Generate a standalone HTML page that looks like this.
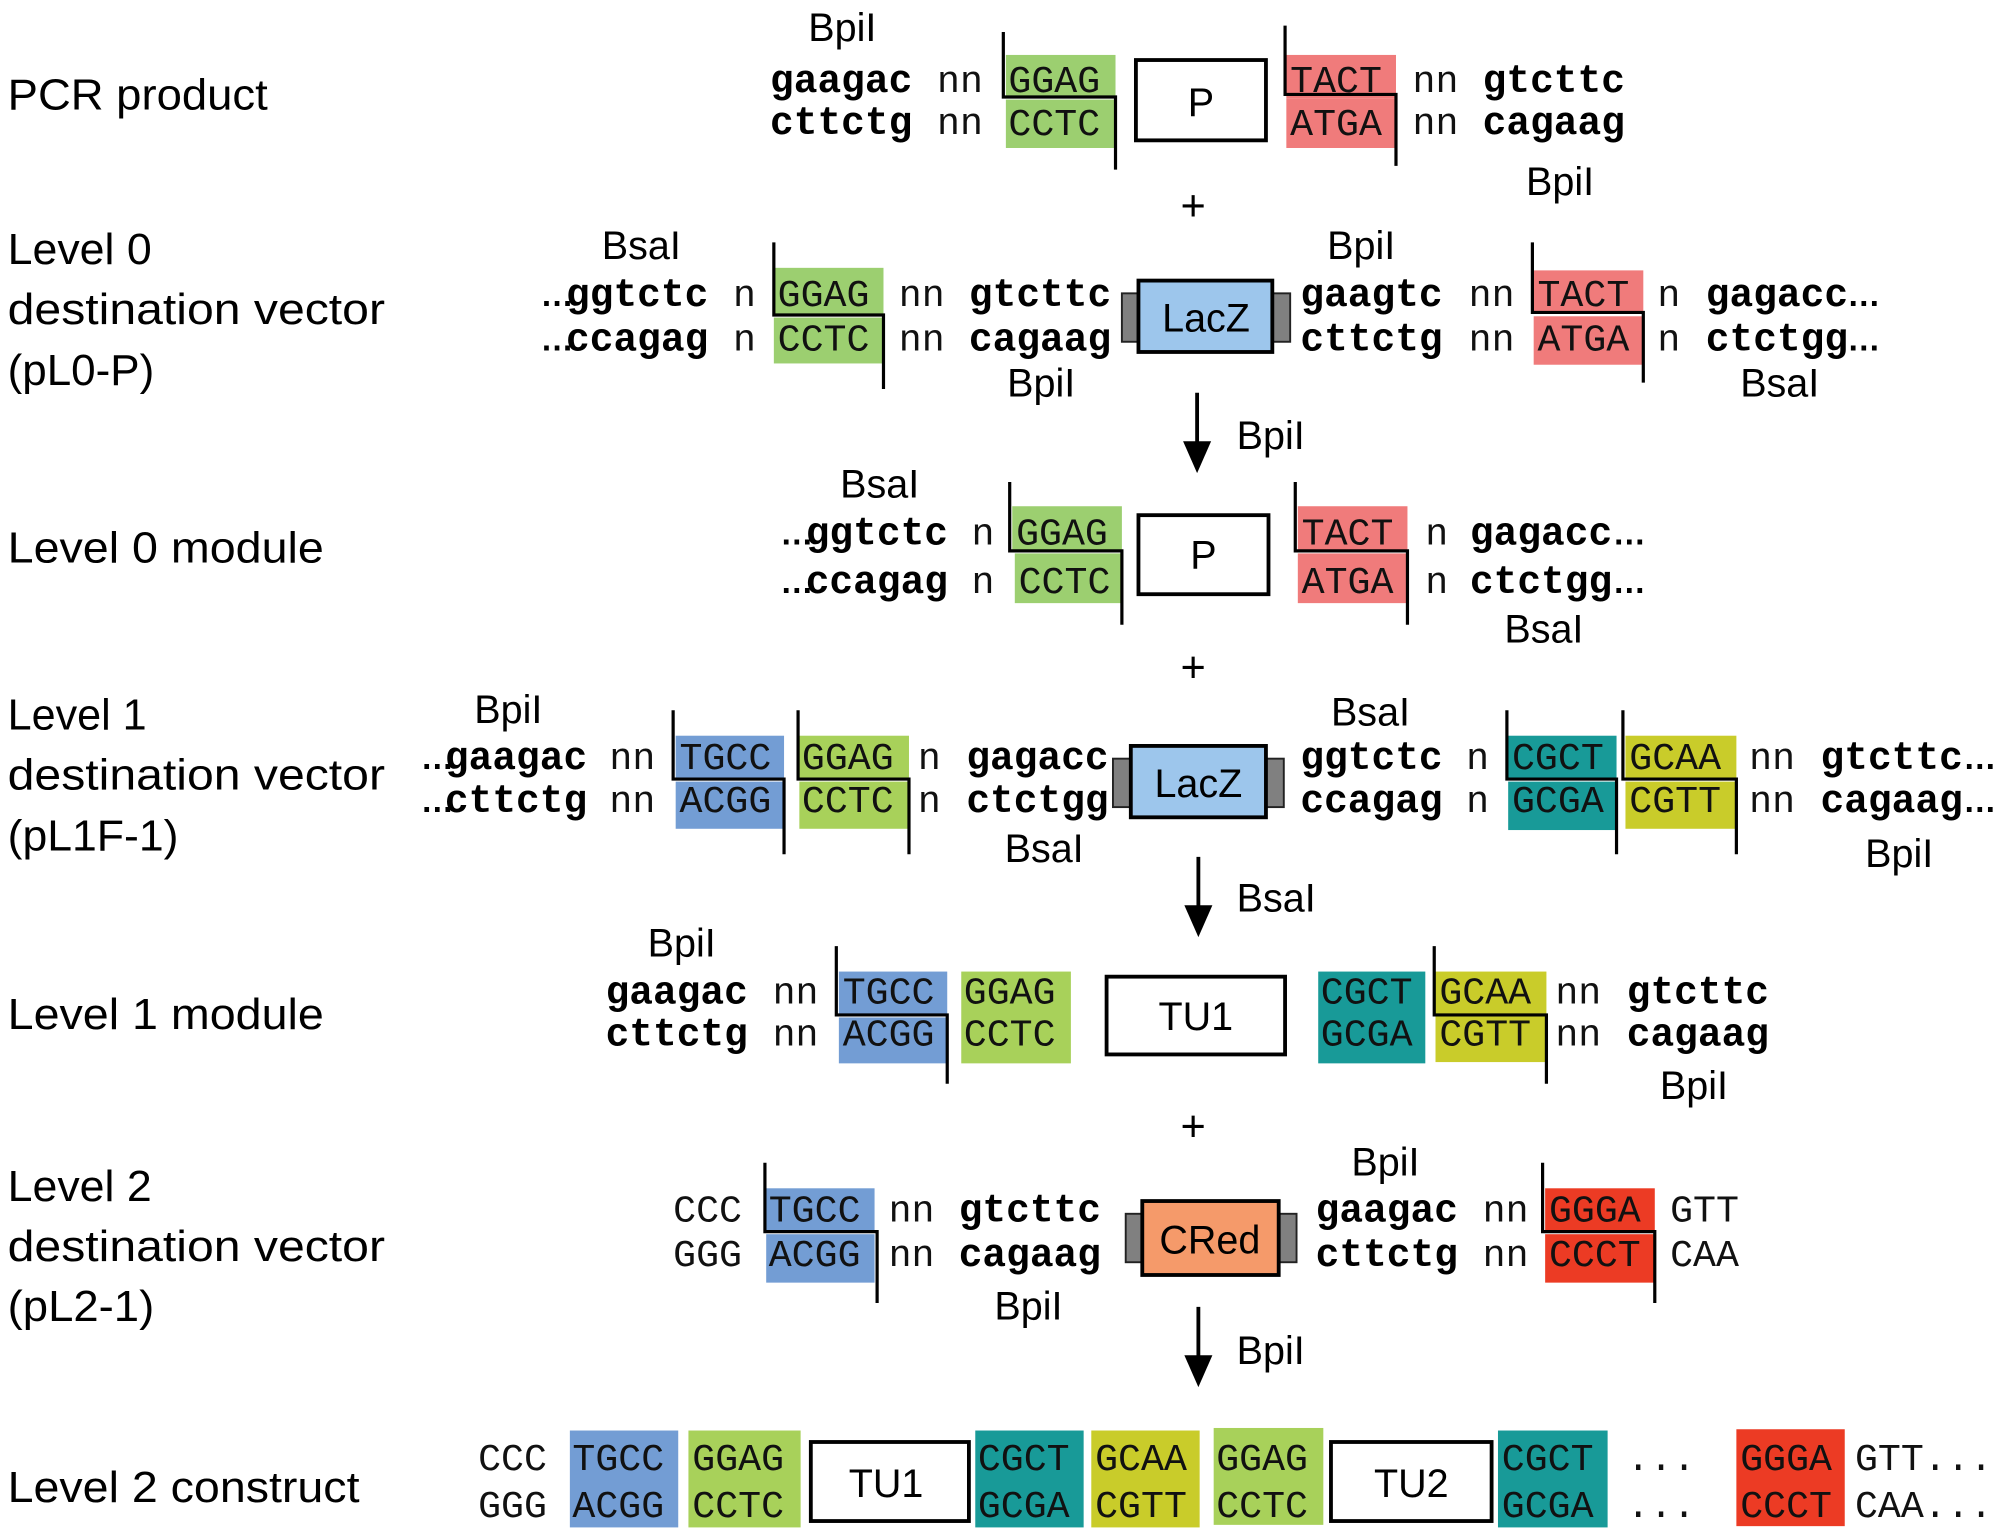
<!DOCTYPE html>
<html><head><meta charset="utf-8"><style>
html,body{margin:0;padding:0;background:#fff;}
svg{display:block}
.l{font-family:"Liberation Sans",sans-serif;font-size:34px;fill:#000}
.e{font-family:"Liberation Sans",sans-serif;font-size:31px;fill:#000}
.b{font-family:"Liberation Mono",monospace;font-size:31px;font-weight:bold;fill:#000}
.m{font-family:"Liberation Mono",monospace;font-size:30px;fill:#111}
.d{font-family:"Liberation Sans",sans-serif;font-size:26px;font-weight:bold;fill:#000}
.c{stroke:#000;stroke-width:2.5;fill:none}
.bx{stroke:#000;stroke-width:3;fill:#fff}
.t{stroke:#222;stroke-width:1.5;fill:#808080}
.in{font-family:"Liberation Sans",sans-serif;font-size:31px;fill:#000;text-anchor:middle}
</style></head><body>
<svg width="1999" height="1539" viewBox="0 0 1568 1207" xmlns="http://www.w3.org/2000/svg">
<!-- Labels -->
<text class="l" x="6" y="86" textLength="204" lengthAdjust="spacingAndGlyphs">PCR product</text>
<text class="l" x="6" y="207" textLength="113" lengthAdjust="spacingAndGlyphs">Level 0</text>
<text class="l" x="6" y="254" textLength="296" lengthAdjust="spacingAndGlyphs">destination vector</text>
<text class="l" x="6" y="302" textLength="115" lengthAdjust="spacingAndGlyphs">(pL0-P)</text>
<text class="l" x="6" y="441" textLength="248" lengthAdjust="spacingAndGlyphs">Level 0 module</text>
<text class="l" x="6" y="572" textLength="109" lengthAdjust="spacingAndGlyphs">Level 1</text>
<text class="l" x="6" y="619" textLength="296" lengthAdjust="spacingAndGlyphs">destination vector</text>
<text class="l" x="6" y="667" textLength="134" lengthAdjust="spacingAndGlyphs">(pL1F-1)</text>
<text class="l" x="6" y="807" textLength="248" lengthAdjust="spacingAndGlyphs">Level 1 module</text>
<text class="l" x="6" y="942" textLength="113" lengthAdjust="spacingAndGlyphs">Level 2</text>
<text class="l" x="6" y="989" textLength="296" lengthAdjust="spacingAndGlyphs">destination vector</text>
<text class="l" x="6" y="1036" textLength="115" lengthAdjust="spacingAndGlyphs">(pL2-1)</text>
<text class="l" x="6" y="1178" textLength="276" lengthAdjust="spacingAndGlyphs">Level 2 construct</text>

<!-- Row 1 PCR product -->
<text class="e" x="634" y="32">BpiI</text>
<text class="b" x="604" y="72">gaagac</text><text class="b" x="604" y="105">cttctg</text>
<text class="m" x="735" y="72">nn</text><text class="m" x="735" y="105">nn</text>
<rect x="789" y="43" width="86" height="33" fill="#9ccf70"/><rect x="789" y="78" width="86" height="38" fill="#9ccf70"/>
<text class="m" x="791" y="72">GGAG</text><text class="m" x="791" y="106">CCTC</text>
<polyline class="c" points="787,25 787,76 875,76 875,133"/>
<rect class="bx" x="891" y="47" width="102" height="63"/><text class="in" x="942" y="91">P</text>
<rect x="1009" y="43" width="86" height="34" fill="#f07b7b"/><rect x="1009" y="77" width="86" height="39" fill="#f07b7b"/>
<text class="m" x="1012" y="72">TACT</text><text class="m" x="1012" y="106">ATGA</text>
<polyline class="c" points="1008,20 1008,74 1095,74 1095,130"/>
<text class="m" x="1108" y="72">nn</text><text class="m" x="1108" y="105">nn</text>
<text class="b" x="1163" y="72">gtcttc</text><text class="b" x="1163" y="105">cagaag</text>
<text class="e" x="1197" y="153">BpiI</text>
<text class="l" x="926" y="173">+</text>

<!-- Row 2 -->
<text class="e" x="472" y="203">BsaI</text>
<text class="e" x="1041" y="203">BpiI</text>
<text class="d" x="424" y="240">…</text><text class="d" x="424" y="275">…</text>
<text class="b" x="444" y="240">ggtctc</text><text class="b" x="444" y="275">ccagag</text>
<text class="m" x="575" y="240">n</text><text class="m" x="575" y="275">n</text>
<rect x="607" y="210" width="86" height="37" fill="#9ccf70"/><rect x="607" y="249" width="86" height="36" fill="#9ccf70"/>
<text class="m" x="610" y="240">GGAG</text><text class="m" x="610" y="275">CCTC</text>
<polyline class="c" points="607,190 607,247 693,247 693,305"/>
<text class="m" x="705" y="240">nn</text><text class="m" x="705" y="275">nn</text>
<text class="b" x="760" y="240">gtcttc</text><text class="b" x="760" y="275">cagaag</text>
<rect class="t" x="880" y="230" width="14" height="38"/><rect class="t" x="998" y="230" width="14" height="38"/>
<rect class="bx" x="893" y="220" width="105" height="56" style="fill:#9dc6ec"/><text class="in" x="946" y="260">LacZ</text>
<text class="b" x="1020" y="240">gaagtc</text><text class="b" x="1020" y="275">cttctg</text>
<text class="m" x="1152" y="240">nn</text><text class="m" x="1152" y="275">nn</text>
<rect x="1203" y="212" width="86" height="34" fill="#f07b7b"/><rect x="1203" y="248" width="86" height="38" fill="#f07b7b"/>
<text class="m" x="1206" y="240">TACT</text><text class="m" x="1206" y="275">ATGA</text>
<polyline class="c" points="1202,190 1202,245 1289,245 1289,300"/>
<text class="m" x="1300" y="240">n</text><text class="m" x="1300" y="275">n</text>
<text class="b" x="1338" y="240">gagacc</text><text class="b" x="1338" y="275">ctctgg</text>
<text class="d" x="1449" y="240">…</text><text class="d" x="1449" y="275">…</text>
<text class="e" x="790" y="311">BpiI</text>
<text class="e" x="1365" y="311">BsaI</text>
<line x1="939" y1="308" x2="939" y2="352" stroke="#000" stroke-width="3"/><polygon points="928,346 950,346 939,371"/>
<text class="e" x="970" y="352">BpiI</text>

<!-- Row 3 -->
<text class="e" x="659" y="390">BsaI</text>
<text class="d" x="612" y="427">…</text><text class="d" x="612" y="465">…</text>
<text class="b" x="632" y="427">ggtctc</text><text class="b" x="632" y="465">ccagag</text>
<text class="m" x="762" y="427">n</text><text class="m" x="762" y="465">n</text>
<rect x="794" y="397" width="86" height="35" fill="#9ccf70"/><rect x="796" y="434" width="84" height="39" fill="#9ccf70"/>
<text class="m" x="797" y="427">GGAG</text><text class="m" x="799" y="465">CCTC</text>
<polyline class="c" points="792,378 792,432 880,432 880,490"/>
<rect class="bx" x="893" y="404" width="102" height="62"/><text class="in" x="944" y="446">P</text>
<rect x="1018" y="397" width="86" height="35" fill="#f07b7b"/><rect x="1018" y="434" width="86" height="39" fill="#f07b7b"/>
<text class="m" x="1021" y="427">TACT</text><text class="m" x="1021" y="465">ATGA</text>
<polyline class="c" points="1016,378 1016,432 1104,432 1104,490"/>
<text class="m" x="1118" y="427">n</text><text class="m" x="1118" y="465">n</text>
<text class="b" x="1153" y="427">gagacc</text><text class="b" x="1153" y="465">ctctgg</text>
<text class="d" x="1265" y="427">…</text><text class="d" x="1265" y="465">…</text>
<text class="e" x="1180" y="504">BsaI</text>
<text class="l" x="926" y="535">+</text>

<!-- Row 4 -->
<text class="e" x="372" y="567">BpiI</text>
<text class="e" x="1044" y="569">BsaI</text>
<text class="d" x="330" y="603">…</text><text class="d" x="330" y="637">…</text>
<text class="b" x="349" y="603">gaagac</text><text class="b" x="349" y="637">cttctg</text>
<text class="m" x="478" y="603">nn</text><text class="m" x="478" y="637">nn</text>
<rect x="530" y="577" width="85" height="34" fill="#739dd4"/><rect x="530" y="613" width="85" height="37" fill="#739dd4"/>
<text class="m" x="533" y="603">TGCC</text><text class="m" x="533" y="637">ACGG</text>
<polyline class="c" points="528,557 528,611 615,611 615,670"/>
<rect x="627" y="577" width="86" height="34" fill="#a8d15a"/><rect x="627" y="613" width="86" height="37" fill="#a8d15a"/>
<text class="m" x="629" y="603">GGAG</text><text class="m" x="629" y="637">CCTC</text>
<polyline class="c" points="626,557 626,611 713,611 713,670"/>
<text class="m" x="720" y="603">n</text><text class="m" x="720" y="637">n</text>
<text class="b" x="758" y="603">gagacc</text><text class="b" x="758" y="637">ctctgg</text>
<rect class="t" x="873" y="595" width="14" height="38"/><rect class="t" x="993" y="595" width="14" height="38"/>
<rect class="bx" x="887" y="585" width="106" height="56" style="fill:#9dc6ec"/><text class="in" x="940" y="625">LacZ</text>
<text class="b" x="1020" y="603">ggtctc</text><text class="b" x="1020" y="637">ccagag</text>
<text class="m" x="1150" y="603">n</text><text class="m" x="1150" y="637">n</text>
<rect x="1183" y="577" width="85" height="34" fill="#189a98"/><rect x="1183" y="613" width="85" height="38" fill="#189a98"/>
<text class="m" x="1186" y="603">CGCT</text><text class="m" x="1186" y="637">GCGA</text>
<polyline class="c" points="1182,557 1182,611 1268,611 1268,670"/>
<rect x="1275" y="577" width="87" height="34" fill="#c9cc2a"/><rect x="1275" y="613" width="87" height="37" fill="#c9cc2a"/>
<text class="m" x="1278" y="603">GCAA</text><text class="m" x="1278" y="637">CGTT</text>
<polyline class="c" points="1273,557 1273,611 1362,611 1362,670"/>
<text class="m" x="1372" y="603">nn</text><text class="m" x="1372" y="637">nn</text>
<text class="b" x="1428" y="603">gtcttc</text><text class="b" x="1428" y="637">cagaag</text>
<text class="d" x="1540" y="603">…</text><text class="d" x="1540" y="637">…</text>
<text class="e" x="788" y="676">BsaI</text>
<text class="e" x="1463" y="680">BpiI</text>
<line x1="940" y1="672" x2="940" y2="715" stroke="#000" stroke-width="3"/><polygon points="929,710 951,710 940,735"/>
<text class="e" x="970" y="715">BsaI</text>

<!-- Row 5 -->
<text class="e" x="508" y="750">BpiI</text>
<text class="b" x="475" y="787">gaagac</text><text class="b" x="475" y="820">cttctg</text>
<text class="m" x="606" y="787">nn</text><text class="m" x="606" y="820">nn</text>
<rect x="658" y="762" width="85" height="34" fill="#739dd4"/><rect x="658" y="798" width="85" height="36" fill="#739dd4"/>
<text class="m" x="661" y="787">TGCC</text><text class="m" x="661" y="820">ACGG</text>
<polyline class="c" points="656,742 656,796 743,796 743,850"/>
<rect x="754" y="762" width="86" height="72" fill="#a8d15a"/>
<text class="m" x="756" y="787">GGAG</text><text class="m" x="756" y="820">CCTC</text>
<rect class="bx" x="868" y="766" width="140" height="61"/><text class="in" x="938" y="808">TU1</text>
<rect x="1034" y="762" width="84" height="72" fill="#189a98"/>
<text class="m" x="1036" y="787">CGCT</text><text class="m" x="1036" y="820">GCGA</text>
<rect x="1126" y="762" width="87" height="71" fill="#c9cc2a"/>
<text class="m" x="1129" y="787">GCAA</text><text class="m" x="1129" y="820">CGTT</text>
<polyline class="c" points="1125,742 1125,796 1213,796 1213,850"/>
<text class="m" x="1220" y="787">nn</text><text class="m" x="1220" y="820">nn</text>
<text class="b" x="1276" y="787">gtcttc</text><text class="b" x="1276" y="820">cagaag</text>
<text class="e" x="1302" y="862">BpiI</text>
<text class="l" x="926" y="895">+</text>

<!-- Row 6 -->
<text class="e" x="1060" y="922">BpiI</text>
<text class="m" x="528" y="958">CCC</text><text class="m" x="528" y="993">GGG</text>
<rect x="601" y="932" width="85" height="34" fill="#739dd4"/><rect x="601" y="968" width="85" height="38" fill="#739dd4"/>
<text class="m" x="603" y="958">TGCC</text><text class="m" x="603" y="993">ACGG</text>
<polyline class="c" points="600,912 600,966 688,966 688,1022"/>
<text class="m" x="697" y="958">nn</text><text class="m" x="697" y="993">nn</text>
<text class="b" x="752" y="958">gtcttc</text><text class="b" x="752" y="993">cagaag</text>
<rect class="t" x="883" y="952" width="14" height="38"/><rect class="t" x="1003" y="952" width="14" height="38"/>
<rect class="bx" x="896" y="942" width="107" height="58" style="fill:#f59a6a"/><text class="in" x="949" y="983">CRed</text>
<text class="b" x="1032" y="958">gaagac</text><text class="b" x="1032" y="993">cttctg</text>
<text class="m" x="1163" y="958">nn</text><text class="m" x="1163" y="993">nn</text>
<rect x="1212" y="932" width="86" height="34" fill="#ec3b24"/><rect x="1212" y="968" width="86" height="38" fill="#ec3b24"/>
<text class="m" x="1215" y="958">GGGA</text><text class="m" x="1215" y="993">CCCT</text>
<polyline class="c" points="1210,912 1210,966 1298,966 1298,1022"/>
<text class="m" x="1310" y="958">GTT</text><text class="m" x="1310" y="993">CAA</text>
<text class="e" x="780" y="1035">BpiI</text>
<line x1="940" y1="1025" x2="940" y2="1068" stroke="#000" stroke-width="3"/><polygon points="929,1063 951,1063 940,1088"/>
<text class="e" x="970" y="1070">BpiI</text>

<!-- Row 7 -->
<text class="m" x="375" y="1153">CCC</text><text class="m" x="375" y="1190">GGG</text>
<rect x="447" y="1122" width="85" height="76" fill="#739dd4"/>
<text class="m" x="449" y="1153">TGCC</text><text class="m" x="449" y="1190">ACGG</text>
<rect x="540" y="1122" width="88" height="76" fill="#a8d15a"/>
<text class="m" x="543" y="1153">GGAG</text><text class="m" x="543" y="1190">CCTC</text>
<rect class="bx" x="636" y="1131" width="124" height="62"/><text class="in" x="695" y="1174">TU1</text>
<rect x="765" y="1122" width="85" height="76" fill="#189a98"/>
<text class="m" x="767" y="1153">CGCT</text><text class="m" x="767" y="1190">GCGA</text>
<rect x="856" y="1122" width="85" height="76" fill="#c9cc2a"/>
<text class="m" x="859" y="1153">GCAA</text><text class="m" x="859" y="1190">CGTT</text>
<rect x="952" y="1120" width="86" height="76" fill="#a8d15a"/>
<text class="m" x="954" y="1153">GGAG</text><text class="m" x="954" y="1190">CCTC</text>
<rect class="bx" x="1044" y="1131" width="126" height="62"/><text class="in" x="1107" y="1174">TU2</text>
<rect x="1175" y="1122" width="86" height="76" fill="#189a98"/>
<text class="m" x="1178" y="1153">CGCT</text><text class="m" x="1178" y="1190">GCGA</text>
<text class="m" x="1276" y="1153">...</text><text class="m" x="1276" y="1190">...</text>
<rect x="1362" y="1121" width="85" height="76" fill="#ec3b24"/>
<text class="m" x="1365" y="1153">GGGA</text><text class="m" x="1365" y="1190">CCCT</text>
<text class="m" x="1455" y="1153">GTT...</text><text class="m" x="1455" y="1190">CAA...</text>
</svg>
</body></html>
